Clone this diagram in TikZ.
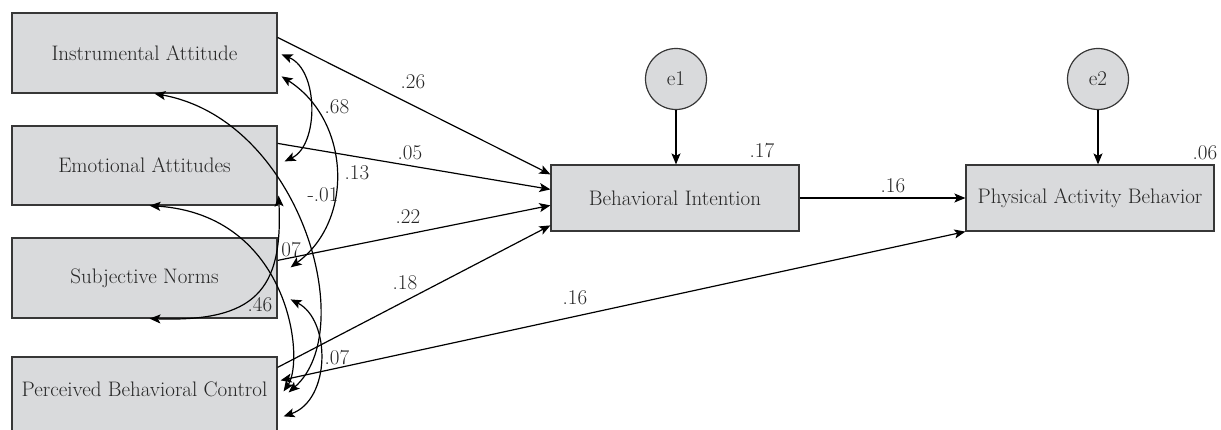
\documentclass[tikz,border=0pt]{standalone}
\usetikzlibrary{calc,arrows.meta}
\definecolor{boxgray}{RGB}{217,218,220}
\definecolor{boxline}{RGB}{55,55,55}
\tikzset{
	obsbox/.style={draw=boxline, line width=1.2pt, fill=boxgray, text=black!85, inner sep=0pt, minimum width=265pt, minimum height=80pt},
	endbox/.style={obsbox, minimum width=248pt, minimum height=66pt},
	errcirc/.style={circle, draw=boxline, line width=1.2pt, fill=boxgray, text=black!85, minimum size=61pt, inner sep=0pt},
	regpath/.style={line width=1.2pt, -{Stealth[length=11pt,width=9pt,inset=2.5pt]}},
	covpath/.style={line width=1.2pt, {Stealth[length=11pt,width=9pt,inset=2.5pt]}-{Stealth[length=11pt,width=9pt,inset=2.5pt]}},
	coef/.style={text=black!85, inner sep=0pt}
}

\begin{document}
\begin{tikzpicture}[x=1pt, y=-1pt, font=\fontsize{21}{25}\selectfont]
		%%%%% START %%%%%
		\useasboundingbox (0, 0) rectangle (1221, 430);
		\clip (0, 0) rectangle (1221, 430);
		
		\node[obsbox] (ia) at (144.5, 53) {Instrumental Attitude};
		\node[obsbox, minimum height=79pt] (ea) at (144.5, 165.5) {Emotional Attitudes};
		\node[obsbox] (sn) at (144.5, 278) {Subjective Norms};
		\node[obsbox, text depth=15pt] (pbc) at (144.5, 397) {Perceived Behavioral Control};
		
		\node[endbox] (bi) at (675, 198) {Behavioral Intention};
		\node[endbox] (pab) at (1090, 198) {Physical Activity Behavior};
		\node[errcirc] (e1) at (676, 79) {e1};
		\node[errcirc] (e2) at (1098, 79) {e2};
		
		\draw[regpath] (e1.south) -- (e1.south |- bi.north);
		\draw[regpath] (e2.south) -- (e2.south |- pab.north);
		
		\draw[regpath] ($(ia.north east)+(0, 25)$) -- ($(bi.north west)+(0, 10)$);
		\draw[regpath] ($(ea.north east)+(0, 18)$) -- ($(bi.north west)+(0, 25)$);
		\draw[regpath] ($(sn.north east)+(0, 23)$) -- ($(bi.north west)+(0, 41)$);
		\draw[regpath] ($(pbc.north east)+(0, 11)$) -- ($(bi.north west)+(0, 61)$);
		\draw[regpath] (bi.east) -- (pab.west);
		\draw[covpath] ($(pbc.north east)+(3, 24)$) -- (pab.south west);
		
		% covariances
		\draw[covpath] ($(ia.north east)+(4, 42)$) .. controls (319, 70) and (319, 145) .. ($(ea.north east)+(7, 36)$);
		\draw[covpath] ($(ia.north east)+(4, 64)$) .. controls (350, 120) and (355, 220) .. ($(sn.north east)+(13, 30)$);
		\draw[covpath] ($(ia.south)+(10, 0)$) .. controls (300, 120) and (360, 330) .. ($(pbc.north east)+(11, 36)$);
		\draw[covpath] ($(ea.south east)+(1, -10)$) .. controls (283, 290) and (255, 322) .. ($(sn.south)+(5, 0)$);
		\draw[covpath] ($(ea.south)+(5, 0)$) .. controls (290, 215) and (305, 360) .. ($(pbc.north east)+(6, 35)$);
		\draw[covpath] ($(sn.north east)+(13, 62)$) .. controls (331, 320) and (331, 400) .. ($(pbc.north east)+(6, 60)$);
		
		\node[coef] (c26) at (413, 82) {.26};
		\node[coef] (c05) at (410, 153) {.05};
		\node[coef] (c22) at (408, 217) {.22};
		\node[coef] (c18) at (405, 283) {.18};
		\node[coef] (c16a) at (575, 298) {.16};
		\node[coef] (c16b) at (893, 186) {.16};
		\node[coef] (c17) at (762, 151) {.17};
		\node[coef] (c06) at (1205, 153) {.06};
		\node[coef] (c68) at (337, 107) {.68};
		\node[coef] (c13) at (357, 173) {.13};
		\node[coef] (c01) at (323, 195) {-.01};
		\node[coef] (c07a) at (291, 250) {07};
		\node[coef] (c46) at (260, 305) {.46};
		\node[coef] (c07b) at (337, 358) {.07};
		%%%%% END %%%%%
	\end{tikzpicture}
\end{document}
